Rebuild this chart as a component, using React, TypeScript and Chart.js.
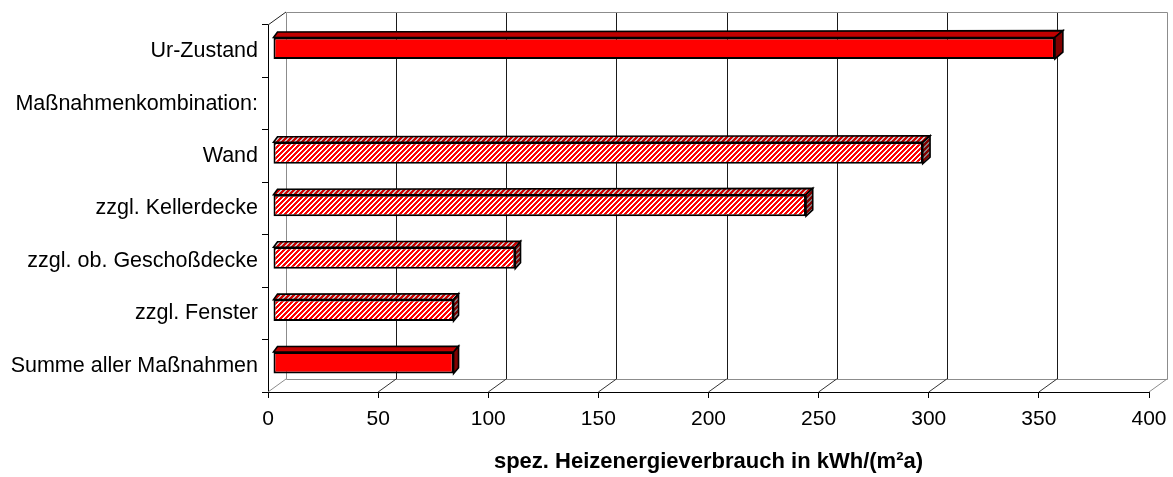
import React, { useEffect, useRef } from 'react';
import { Chart, registerables } from 'chart.js';

Chart.register(...registerables);

// ---- data ----
const categories = [
  'Ur-Zustand',
  'Maßnahmenkombination:',
  'Wand',
  'zzgl. Kellerdecke',
  'zzgl. ob. Geschoßdecke',
  'zzgl. Fenster',
  'Summe aller Maßnahmen',
];
const values: (number | null)[] = [355, null, 295, 242, 110, 82, 82];
const hatched = [false, false, true, true, true, true, false];
const xMin = 0;
const xMax = 400;
const xStep = 50;
const axisTitle = 'spez. Heizenergieverbrauch in kWh/(m²a)';

const FONT = '"Liberation Sans", Arial, Helvetica, sans-serif';

// 3D geometry (px)
const DEPTH_X = 18;
const DEPTH_Y = -13;
const BAR_SHIFT_X = 5;
const BAR_SHIFT_Y = -3;

function makeStripe(c1: string, c2: string, period = 5, on = 3): CanvasPattern | string {
  const cv = document.createElement('canvas');
  cv.width = period;
  cv.height = period;
  const g = cv.getContext('2d');
  if (!g) return c1;
  for (let y = 0; y < period; y++) {
    for (let x = 0; x < period; x++) {
      g.fillStyle = (x + y) % period < on ? c1 : c2;
      g.fillRect(x, y, 1, 1);
    }
  }
  return g.createPattern(cv, 'repeat') || c1;
}

function line(ctx: CanvasRenderingContext2D, x1: number, y1: number, x2: number, y2: number) {
  ctx.beginPath();
  ctx.moveTo(x1, y1);
  ctx.lineTo(x2, y2);
  ctx.stroke();
}

export default function App() {
  const ref = useRef<HTMLCanvasElement | null>(null);

  useEffect(() => {
    const canvas = ref.current;
    if (!canvas) return;

    const frontHatch = makeStripe('#FF0000', '#FFFFFF');
    const topHatch = makeStripe('#D00000', '#C8C8C8');
    const sideHatch = makeStripe('#800000', '#808080');

    const wallPlugin = {
      id: 'wall3d',
      beforeDatasetsDraw(chart: any) {
        const { ctx, chartArea: a, scales } = chart;
        const xs = scales.x;
        const bt = a.top + DEPTH_Y;
        const bb = a.bottom + DEPTH_Y;
        const bl = a.left + DEPTH_X;
        const br = a.right + DEPTH_X;
        ctx.save();
        ctx.lineWidth = 1;
        // back wall grid lines
        ctx.strokeStyle = '#1a1a1a';
        xs.ticks.forEach((t: any) => {
          if (t.value > xMin && t.value < xMax) {
            const px = Math.round(xs.getPixelForValue(t.value) + DEPTH_X) + 0.5;
            line(ctx, px, Math.round(bt) + 0.5, px, Math.round(bb) + 0.5);
          }
        });
        // wall frame
        ctx.strokeStyle = '#8c8c8c';
        const L = Math.round(bl) + 0.5;
        const R = Math.round(br) + 0.5;
        const T = Math.round(bt) + 0.5;
        const B = Math.round(bb) + 0.5;
        line(ctx, L, T, R, T);
        line(ctx, L, T, L, B);
        line(ctx, R, T, R, B);
        line(ctx, L, B, R, B);
        // floor diagonals
        xs.ticks.forEach((t: any) => {
          const px = xs.getPixelForValue(t.value);
          ctx.strokeStyle = t.value === xMin || t.value === xMax ? '#8c8c8c' : '#333333';
          line(ctx, px, a.bottom, px + DEPTH_X, bb);
        });
        // top-left wall diagonal
        ctx.strokeStyle = '#222222';
        line(ctx, a.left, a.top, bl, bt);
        ctx.restore();

        // 3D bar faces (top and side), drawn behind the front faces
        ctx.save();
        ctx.translate(BAR_SHIFT_X, BAR_SHIFT_Y);
        const meta = chart.getDatasetMeta(0);
        const depthAt = (px: number) => {
          const t = (px - a.left) / (a.right - a.left);
          return { dx: 4 + 4.5 * t, dy: -(5.5 + 1.5 * t) };
        };
        meta.data.forEach((el: any, i: number) => {
          if (values[i] == null) return;
          const p = el.getProps(['x', 'y', 'base', 'height'], true);
          const Lx = Math.min(p.base, p.x);
          const Rx = Math.max(p.base, p.x);
          const Ty = p.y - p.height / 2;
          const By = p.y + p.height / 2;
          const dl = depthAt(Lx);
          const dr = depthAt(Rx);
          ctx.lineWidth = 1.6;
          ctx.strokeStyle = '#000';
          ctx.lineJoin = 'miter';
          // top face
          ctx.beginPath();
          ctx.moveTo(Lx, Ty);
          ctx.lineTo(Lx + dl.dx, Ty + dl.dy);
          ctx.lineTo(Rx + dr.dx, Ty + dr.dy);
          ctx.lineTo(Rx, Ty);
          ctx.closePath();
          ctx.fillStyle = hatched[i] ? topHatch : '#C00000';
          ctx.fill();
          ctx.stroke();
          // side face
          ctx.beginPath();
          ctx.moveTo(Rx, Ty);
          ctx.lineTo(Rx + dr.dx, Ty + dr.dy);
          ctx.lineTo(Rx + dr.dx, By + dr.dy);
          ctx.lineTo(Rx, By);
          ctx.closePath();
          ctx.fillStyle = hatched[i] ? sideHatch : '#800000';
          ctx.fill();
          ctx.stroke();
        });
        // keep translation for the library's own bar drawing; restored afterwards
      },
      afterDatasetsDraw(chart: any) {
        chart.ctx.restore();
      },
    };

    const chart = new Chart(canvas, {
      type: 'bar',
      data: {
        labels: categories,
        datasets: [
          {
            data: values as any,
            backgroundColor: hatched.map((h) => (h ? frontHatch : '#FF0000')) as any,
            borderColor: '#000000',
            borderWidth: 2,
            borderSkipped: false,
            barPercentage: 0.41,
            categoryPercentage: 1,
          },
        ],
      },
      options: {
        indexAxis: 'y',
        responsive: false,
        maintainAspectRatio: false,
        animation: false,
        devicePixelRatio: 1,
        layout: { padding: { top: 25, right: 24, left: 0, bottom: 0 } },
        plugins: {
          legend: { display: false },
          tooltip: { enabled: false },
          title: { display: false },
        },
        scales: {
          x: {
            type: 'linear',
            min: xMin,
            max: xMax,
            ticks: {
              stepSize: xStep,
              font: { family: FONT, size: 21 },
              color: '#000',
              padding: 9,
              maxRotation: 0,
              autoSkip: false,
            },
            grid: {
              drawOnChartArea: false,
              drawTicks: true,
              tickLength: 6,
              color: '#000',
            },
            border: { display: true, color: '#000', width: 1 },
            title: {
              display: true,
              text: axisTitle,
              font: { family: FONT, size: 22, weight: 'bold' },
              color: '#000',
              padding: { top: 0, bottom: 2 },
            },
            afterFit: (s: any) => {
              s.height = 85;
              s.paddingLeft = 0;
              s.paddingRight = 0;
            },
          },
          y: {
            type: 'category',
            ticks: {
              font: { family: FONT, size: 21.5 },
              color: '#000',
              padding: 4,
              autoSkip: false,
            },
            grid: {
              drawOnChartArea: false,
              drawTicks: true,
              tickLength: 6,
              color: '#000',
              offset: true,
            },
            border: { display: true, color: '#000', width: 1 },
            afterFit: (s: any) => {
              s.width = 268;
              s.paddingTop = 0;
              s.paddingBottom = 0;
            },
          },
        },
      } as any,
      plugins: [wallPlugin as any],
    });

    return () => {
      chart.destroy();
    };
  }, []);

  return (
    <div style={{ position: 'absolute', left: 0, top: 0, width: 1173, height: 477, background: '#fff' }}>
      <canvas ref={ref} width={1173} height={477} style={{ display: 'block', width: 1173, height: 477 }} />
    </div>
  );
}
